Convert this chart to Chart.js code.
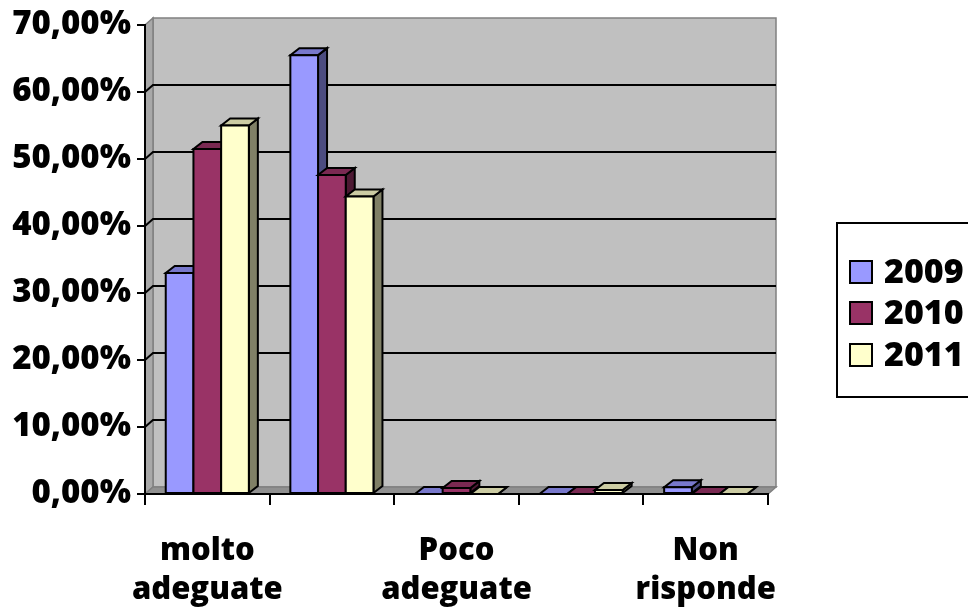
<!DOCTYPE html>
<html>
<head>
<meta charset="utf-8">
<script src="https://cdn.jsdelivr.net/npm/chart.js@4"></script>
<style>
  html, body { margin: 0; padding: 0; background: #ffffff; }
  canvas { display: block; }
</style>
</head>
<body>
<canvas id="c" width="968" height="613"></canvas>
<script>
// ---- data ----
const categories = ['molto adeguate', 'adeguate', 'Poco adeguate', 'per niente adeguate', 'Non risponde'];
const seriesNames = ['2009', '2010', '2011'];
const values2009 = [33.0, 65.5, 0, 0, 1.0];
const values2010 = [51.5, 47.6, 0.9, 0, 0];
const values2011 = [55.0, 44.4, 0, 0.6, 0];
const yTickValues = [0, 10, 20, 30, 40, 50, 60, 70];

// ---- styles ----
const Y_FONT = { family: 'Open Sans', weight: '800', size: 33, lineHeight: 1.15 };
const X_FONT = { family: 'Open Sans', weight: '800', size: 31, lineHeight: 1.27 };
const faceColors = [
  { front: '#9999ff', top: '#7878cc', side: '#4c4c80' },
  { front: '#993366', top: '#7a2952', side: '#4d1933' },
  { front: '#ffffcc', top: '#cccca3', side: '#808066' }
];
const WALL_DX = 8, WALL_DY = 7;
const BAR_DX = 9, BAR_DY = 7;

function fmtPct(v) { return v.toFixed(2).replace('.', ',') + '%'; }

const wallPlugin = {
  id: 'wall3d',
  beforeDraw(chart) {
    const ctx = chart.ctx;
    const a = chart.chartArea;
    const y = chart.scales.y;
    ctx.save();
    ctx.fillStyle = '#ffffff';
    ctx.fillRect(0, 0, chart.width, chart.height);
    // back wall
    ctx.fillStyle = '#c0c0c0';
    ctx.fillRect(a.left + WALL_DX, a.top - WALL_DY, a.right - a.left, a.bottom - a.top);
    ctx.strokeStyle = '#808080';
    ctx.lineWidth = 1.5;
    ctx.strokeRect(a.left + WALL_DX, a.top - WALL_DY, a.right - a.left, a.bottom - a.top);
    // left side wall
    ctx.beginPath();
    ctx.moveTo(a.left, a.top);
    ctx.lineTo(a.left + WALL_DX, a.top - WALL_DY);
    ctx.lineTo(a.left + WALL_DX, a.bottom - WALL_DY);
    ctx.lineTo(a.left, a.bottom);
    ctx.closePath();
    ctx.fillStyle = '#a8a8a8';
    ctx.fill();
    ctx.stroke();
    // floor
    ctx.beginPath();
    ctx.moveTo(a.left, a.bottom);
    ctx.lineTo(a.right, a.bottom);
    ctx.lineTo(a.right + WALL_DX, a.bottom - WALL_DY);
    ctx.lineTo(a.left + WALL_DX, a.bottom - WALL_DY);
    ctx.closePath();
    ctx.fillStyle = '#909090';
    ctx.fill();
    ctx.stroke();
    // gridlines on back wall and side wall
    ctx.strokeStyle = '#000000';
    ctx.lineWidth = 2;
    yTickValues.forEach(v => {
      if (v === 0 || v === 70) return;
      const py = y.getPixelForValue(v);
      ctx.beginPath();
      ctx.moveTo(a.left, py);
      ctx.lineTo(a.left + WALL_DX, py - WALL_DY);
      ctx.lineTo(a.right + WALL_DX, py - WALL_DY);
      ctx.stroke();
    });
    ctx.restore();
  },
  afterDatasetsDraw(chart) {
    const ctx = chart.ctx;
    const metas = chart.data.datasets.map((d, i) => chart.getDatasetMeta(i));
    ctx.save();
    ctx.strokeStyle = '#000000';
    ctx.lineWidth = 2;
    ctx.lineJoin = 'miter';
    for (let i = 0; i < categories.length; i++) {
      metas.forEach((meta, di) => {
        const el = meta.data[i];
        const p = el.getProps(['x', 'y', 'base', 'width'], true);
        const l = p.x - p.width / 2, r = p.x + p.width / 2;
        const t = Math.min(p.y, p.base), b = Math.max(p.y, p.base);
        const c = faceColors[di];
        // side
        ctx.beginPath();
        ctx.moveTo(r, t);
        ctx.lineTo(r + BAR_DX, t - BAR_DY);
        ctx.lineTo(r + BAR_DX, b - BAR_DY);
        ctx.lineTo(r, b);
        ctx.closePath();
        ctx.fillStyle = c.side; ctx.fill(); ctx.stroke();
        // top
        ctx.beginPath();
        ctx.moveTo(l, t);
        ctx.lineTo(r, t);
        ctx.lineTo(r + BAR_DX, t - BAR_DY);
        ctx.lineTo(l + BAR_DX, t - BAR_DY);
        ctx.closePath();
        ctx.fillStyle = c.top; ctx.fill(); ctx.stroke();
        // front
        ctx.beginPath();
        ctx.rect(l, t, r - l, b - t);
        ctx.fillStyle = c.front; ctx.fill(); ctx.stroke();
      });
    }
    ctx.restore();
  },
  afterDraw(chart) {
    const ctx = chart.ctx;
    ctx.save();
    // legend frame
    ctx.strokeStyle = '#000000';
    ctx.lineWidth = 2;
    ctx.strokeRect(837, 223, 200, 174);
    ctx.font = '800 34px "Open Sans"';
    ctx.textBaseline = 'middle';
    ctx.textAlign = 'left';
    const ys = [272, 313, 355];
    chart.data.datasets.forEach((ds, i) => {
      const cy = ys[i];
      ctx.fillStyle = ds.backgroundColor;
      ctx.fillRect(850, cy - 11, 22, 22);
      ctx.lineWidth = 2;
      ctx.strokeRect(850, cy - 11, 22, 22);
      ctx.fillStyle = '#000000';
      ctx.fillText(ds.label, 884, cy + 1);
    });
    ctx.restore();
  }
};

new Chart(document.getElementById('c'), {
  type: 'bar',
  data: {
    labels: categories,
    datasets: [
      { label: seriesNames[0], data: values2009, backgroundColor: faceColors[0].front },
      { label: seriesNames[1], data: values2010, backgroundColor: faceColors[1].front },
      { label: seriesNames[2], data: values2011, backgroundColor: faceColors[2].front }
    ]
  },
  options: {
    responsive: false,
    devicePixelRatio: 1,
    animation: false,
    layout: { padding: { top: 25, right: 200, left: 0, bottom: 0 } },
    datasets: { bar: { barPercentage: 1, categoryPercentage: 0.667, borderWidth: 0 } },
    plugins: { legend: { display: false }, tooltip: { enabled: false } },
    scales: {
      x: {
        type: 'category',
        grid: { offset: true, drawOnChartArea: false, drawTicks: true, tickLength: 11, color: '#000000', lineWidth: 2 },
        border: { color: '#000000', width: 2 },
        ticks: {
          autoSkip: false, maxRotation: 0, minRotation: 0, padding: 26, color: '#000000', font: X_FONT,
          callback: function (v, i) { return i % 2 === 0 ? categories[i].split(' ') : ''; }
        },
        afterFit(s) { s.height = 119; }
      },
      y: {
        min: 0, max: 70,
        grid: { drawOnChartArea: false, drawTicks: true, tickLength: 8, color: '#000000', lineWidth: 2 },
        border: { color: '#000000', width: 2 },
        ticks: {
          stepSize: 10, padding: 6, color: '#000000', font: Y_FONT,
          callback: function (v) { return fmtPct(v); }
        },
        afterFit(s) { s.width = 145; }
      }
    }
  },
  plugins: [wallPlugin]
});
</script>
</body>
</html>
